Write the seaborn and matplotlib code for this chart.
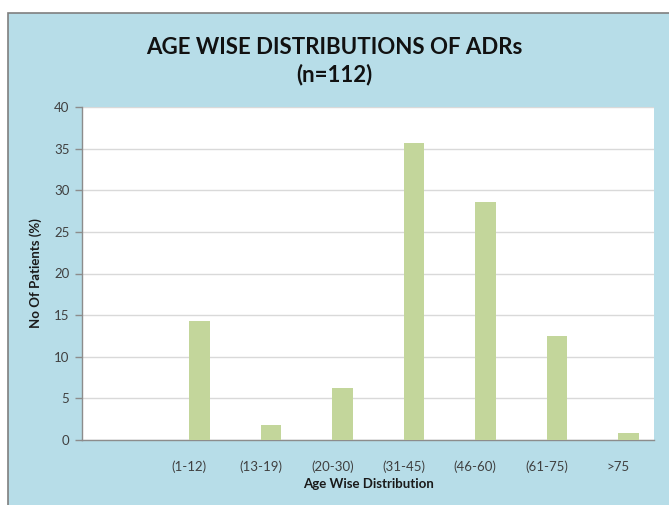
import matplotlib
matplotlib.use("Agg")
import matplotlib.pyplot as plt
from matplotlib.patches import Rectangle
import pandas as pd
import seaborn as sns

# Age groups (first slot is an empty category) and share of patients (%)
age_groups = ["", "(1-12)", "(13-19)", "(20-30)", "(31-45)", "(46-60)", "(61-75)", ">75"]
patients = [0, 16, 2, 7, 40, 32, 14, 1]
n_total = 112
percent = [round(p * 100 / n_total, 2) for p in patients]
blank_series = [0] * len(age_groups)

series_names = ["Series1", "Series2"]

df = pd.DataFrame({
    "group": age_groups * 2,
    "value": blank_series + percent,
    "series": [series_names[0]] * len(age_groups) + [series_names[1]] * len(age_groups),
})

sns.set_theme(style="white")
plt.rcParams["font.family"] = ["Lato", "DejaVu Sans"]

BG = "#B7DDE8"
BAR = "#C3D69B"
GRID = "#D9D9D9"
AXIS = "#8C8C8C"
TXT = "#404040"

fig = plt.figure(figsize=(6.69, 5.05), dpi=100)
fig.patch.set_facecolor("white")
fig.patches.append(Rectangle((8 / 669, -0.2), 1.2, 1.2 - 13 / 505,
                             transform=fig.transFigure, facecolor=BG,
                             edgecolor="#7F7F7F", linewidth=1.2, zorder=-10))

ax = fig.add_axes([82 / 669, 65 / 505, 572 / 669, 333 / 505])
ax.set_zorder(5)
ax.set_facecolor("white")

sns.barplot(data=df, x="group", y="value", hue="series", order=age_groups,
            hue_order=series_names, palette=[BAR, BAR], width=0.571,
            saturation=1, dodge=True, legend=False, ax=ax, zorder=3,
            linewidth=0)

ax.set_ylim(0, 40)
ax.set_yticks(range(0, 41, 5))
ax.set_xlim(-0.5, len(age_groups) - 0.5)
ax.yaxis.grid(True, color=GRID, linewidth=1.0, zorder=0)
ax.xaxis.grid(False)
ax.set_axisbelow(True)

for side in ["top", "right"]:
    ax.spines[side].set_visible(False)
ax.spines["left"].set_color(AXIS)
ax.spines["bottom"].set_color(AXIS)
ax.spines["left"].set_linewidth(1.0)
ax.spines["bottom"].set_linewidth(1.0)

ax.tick_params(axis="y", which="major", left=True, length=5, width=1,
               color=AXIS, labelsize=9.5, labelcolor=TXT, pad=4)
ax.tick_params(axis="x", which="major", bottom=False, labelsize=9.5,
               labelcolor=TXT, pad=9)

ax.set_xlabel("Age Wise Distribution", fontsize=9.5, fontweight="bold",
              color="#1A1A1A", labelpad=3)
ax.set_ylabel("No Of Patients (%)", fontsize=9.5, fontweight="bold",
              color="#1A1A1A", labelpad=9)

fig.text(0.5, 1 - 47 / 505, "AGE WISE DISTRIBUTIONS OF ADRs", ha="center",
         va="center", fontsize=16, fontweight="bold", color="#111111")
fig.text(0.5, 1 - 75 / 505, f"(n={n_total})", ha="center", va="center",
         fontsize=16, fontweight="bold", color="#111111")

fig.savefig("out.png", dpi=100, facecolor=fig.get_facecolor())
